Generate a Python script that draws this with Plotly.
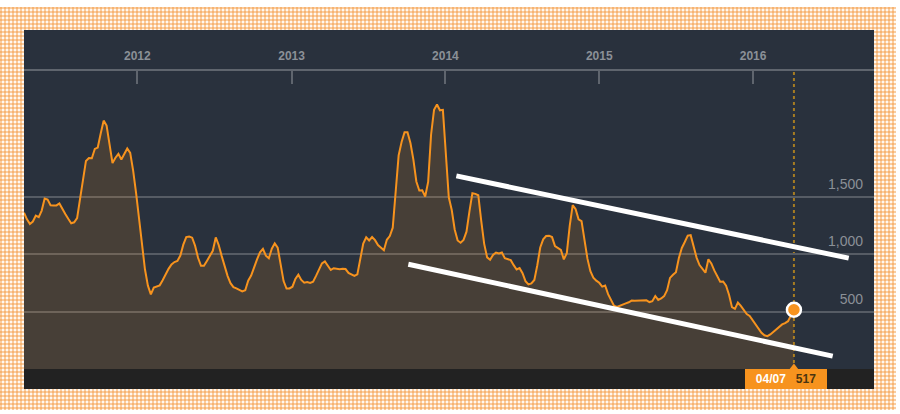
import pandas as pd
import plotly.graph_objects as go

# ---------------- data ----------------
end_date = "2016-04-07"
n_weeks = 262
values = [
    1363, 1306, 1266, 1287, 1339, 1325, 1382, 1487, 1478, 1429,
    1427, 1427, 1444, 1404, 1353, 1311, 1272, 1280, 1317, 1485,
    1640, 1815, 1840, 1839, 1920, 1932, 2054, 2167, 2124, 1970,
    1797, 1843, 1877, 1828, 1881, 1924, 1885, 1731, 1535, 1319,
    1077, 870, 727, 651, 711, 718, 730, 774, 826, 874,
    913, 933, 942, 990, 1085, 1151, 1156, 1146, 1076, 970,
    900, 900, 943, 985, 1031, 1148, 1082,
    987, 896, 813, 749, 714, 704, 691, 677, 687, 771,
    815, 892, 956, 1018, 1048, 989, 966, 1050, 1096, 1059,
    896, 767, 702, 703, 718, 786, 823, 777, 753, 758,
    751, 762, 812, 874, 921, 939, 897, 864, 879, 875,
    871, 875, 872, 838, 826, 812, 826, 960, 1095, 1149,
    1121, 1151, 1124, 1081, 1055, 1036, 1127, 1160, 1233, 1580,
    1864, 1981, 2065, 2065, 1972, 1827,
    1636, 1557, 1559, 1505, 1632, 2046, 2261, 2307, 2257, 2261,
    1862, 1498, 1387, 1217, 1121, 1102, 1126, 1198, 1375, 1534,
    1528, 1516, 1292, 1092, 974, 953, 995, 1016, 1008, 1016,
    967, 955, 950, 906, 868, 880, 836, 766, 738, 746,
    777, 905, 1060, 1131, 1160, 1163, 1151, 1073, 1052, 1039,
    956, 1011, 1250, 1430, 1394, 1306, 1290, 1130, 963, 854,
    797, 771, 752, 719, 729, 653,
    607, 552, 542, 554, 565, 572, 582, 597, 596, 597,
    597, 593, 599, 584, 592, 637, 603, 615, 636, 687,
    795, 822, 845, 969, 1056, 1108, 1163, 1168, 1061, 972,
    907, 869, 840, 958, 921, 860, 805, 761, 763, 726,
    648, 540, 525, 580, 550, 510, 480, 463, 425, 383,
    345, 316, 294, 286, 302, 324, 350, 375, 389, 401,
    417, 467, 517,
]
dates = pd.date_range(end=end_date, periods=n_weeks, freq="7D")

upper_trend_dates = ["2014-01-27", "2016-08-15"]
upper_trend_values = [1685, 967]
lower_trend_dates = ["2013-10-05", "2016-07-08"]
lower_trend_values = [914, 112]

year_ticks = ["2012-01-01", "2013-01-01", "2014-01-01", "2015-01-01", "2016-01-01"]
year_labels = ["2012", "2013", "2014", "2015", "2016"]
y_ticks = [500, 1000, 1500]
y_labels = ["500", "1,000", "1,500"]
x_range = ["2011-04-07", "2016-10-14"]
y_range = [0, 2600]
last_label = "04/07"

# ---------------- styling ----------------
W, H = 900, 414
L, R, T, B = 24, 26, 71, 45
PW, PH = W - L - R, H - T - B

def px_x(p):
    return (p - L) / PW

def px_y(p):
    return (H - B - p) / PH

BG = "#29313d"
ORANGE = "#f7931e"
GRID = "#565c65"
TXT = "#8b9097"

fig = go.Figure()

fig.add_trace(go.Scatter(
    x=dates, y=values, mode="lines",
    line=dict(color=ORANGE, width=2),
    fill="tozeroy", fillcolor="rgba(247,147,30,0.15)",
    hoverinfo="skip", showlegend=False,
))
fig.add_trace(go.Scatter(
    x=upper_trend_dates, y=upper_trend_values, mode="lines",
    line=dict(color="white", width=5), showlegend=False, hoverinfo="skip",
))
fig.add_trace(go.Scatter(
    x=lower_trend_dates, y=lower_trend_values, mode="lines",
    line=dict(color="white", width=5), showlegend=False, hoverinfo="skip",
))
# pointer triangle of the bottom label
fig.add_trace(go.Scatter(
    x=[dates[-1]], y=[0], mode="markers", cliponaxis=False,
    marker=dict(symbol="triangle-up", size=11, color=ORANGE),
    showlegend=False, hoverinfo="skip",
))
# last point marker
fig.add_trace(go.Scatter(
    x=[dates[-1]], y=[values[-1]], mode="markers", cliponaxis=False,
    marker=dict(size=14, color=ORANGE, line=dict(color="white", width=2.5)),
    showlegend=False, hoverinfo="skip",
))

# gingham border pattern
vpath = []
for p in range(0, 896, 4):
    x0, x1 = px_x(p), px_x(p + 2)
    y0, y1 = px_y(7), px_y(410)
    vpath.append(f"M{x0:.5f},{y0:.5f}L{x1:.5f},{y0:.5f}L{x1:.5f},{y1:.5f}L{x0:.5f},{y1:.5f}Z")
hpath = []
for p in range(7, 410, 4):
    x0, x1 = px_x(0), px_x(896)
    y0, y1 = px_y(p), px_y(p + 2)
    hpath.append(f"M{x0:.5f},{y0:.5f}L{x1:.5f},{y0:.5f}L{x1:.5f},{y1:.5f}L{x0:.5f},{y1:.5f}Z")

shapes = [
    dict(type="rect", xref="paper", yref="paper", x0=px_x(0), x1=px_x(896), y0=px_y(7), y1=px_y(410),
         fillcolor="#fff8f0", line=dict(width=0), layer="below"),
    dict(type="path", xref="paper", yref="paper", path="".join(vpath),
         fillcolor="rgba(245,150,60,0.45)", line=dict(width=0), layer="below"),
    dict(type="path", xref="paper", yref="paper", path="".join(hpath),
         fillcolor="rgba(245,150,60,0.45)", line=dict(width=0), layer="below"),
    dict(type="rect", xref="paper", yref="paper", x0=px_x(24), x1=px_x(874), y0=px_y(30), y1=px_y(389),
         fillcolor=BG, line=dict(width=0), layer="below"),
    dict(type="rect", xref="paper", yref="paper", x0=px_x(24), x1=px_x(874), y0=px_y(369), y1=px_y(389),
         fillcolor="#222222", line=dict(width=0), layer="below"),
    dict(type="line", xref="x", yref="paper", x0=dates[-1], x1=dates[-1], y0=0, y1=1,
         line=dict(color="#a67c22", width=2, dash="dot"), layer="below"),
]

fig.add_annotation(
    x=dates[-1], xref="x", y=0, yref="paper", xanchor="center", yanchor="top",
    xshift=-8, width=82, height=20, borderpad=0, borderwidth=0,
    bgcolor=ORANGE, showarrow=False, align="center",
    text=f"<b>{last_label}</b>   <span style=\"color:#4a3510\"><b>{values[-1]}</b></span>",
    font=dict(family="Arial", size=12, color="white"),
)

fig.update_layout(
    width=W, height=H,
    margin=dict(l=L, r=R, t=T, b=B, pad=0),
    paper_bgcolor="white", plot_bgcolor=BG,
    shapes=shapes,
    showlegend=False,
    xaxis=dict(
        type="date", range=x_range, side="top",
        tickvals=year_ticks, ticktext=year_labels,
        ticks="inside", ticklen=13, tickwidth=1.5, tickcolor="#5f656e",
        showline=True, linecolor="#5f656e", linewidth=2,
        showgrid=False, zeroline=False,
        tickfont=dict(family="Arial", size=12, color=TXT, weight="bold"),
        ticklabelstandoff=4,
    ),
    yaxis=dict(
        range=y_range, side="right",
        tickvals=y_ticks, ticktext=y_labels,
        ticklabelposition="inside top",
        ticklabelstandoff=8, ticklabelshift=-3,
        ticks="", showline=False, zeroline=False,
        showgrid=True, gridcolor=GRID, gridwidth=1.5,
        tickfont=dict(family="Arial", size=14, color=TXT),
    ),
)

fig.write_html("out.html")
